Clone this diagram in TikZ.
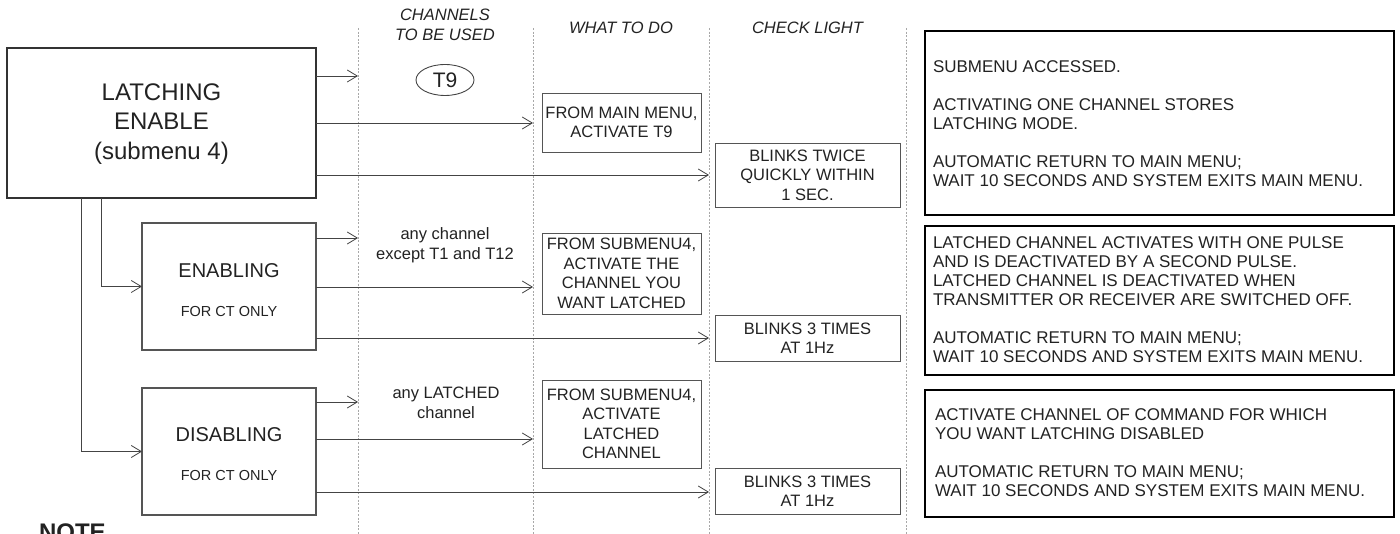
\documentclass[tikz,border=0pt]{standalone}
\usepackage{fontspec}
\setmainfont{Liberation Sans}
\usetikzlibrary{arrows.meta,shapes.geometric}
\definecolor{ink}{HTML}{222222}
\definecolor{ln}{HTML}{444444}
\definecolor{bx}{HTML}{555555}
\definecolor{dotc}{HTML}{A8A8A8}
\newcommand{\fsz}[2]{\fontsize{#1}{#2}\selectfont}
\begin{document}
\begin{tikzpicture}[x=1pt,y=-1pt,
  every node/.style={text=ink, inner sep=0pt, outer sep=0pt},
  mainbox/.style={draw=black!80, line width=1.2pt, rectangle},
  subbox/.style={draw=bx, line width=1.1pt, rectangle},
  midbox/.style={draw=bx, line width=0.9pt, rectangle, align=center, font=\fsz{16.5}{19.5}},
  notebox/.style={draw=black, line width=2pt, rectangle},
  notetext/.style={align=left, anchor=west, font=\fsz{17}{19}},
  hdr/.style={align=center, font=\fsz{16.5}{20}\itshape},
  chan/.style={align=center, font=\fsz{16.5}{19.5}},
  arr/.style={draw=ln, line width=0.9pt, -{Straight Barb[length=10pt,width=12pt,line width=0.8pt]}},
  guide/.style={draw=dotc, line width=0.8pt, dash pattern=on 2pt off 1.6pt}
]
\useasboundingbox (0,0) rectangle (1400,534);
\clip (0,0) rectangle (1400,534);

% column guides
\foreach \gx in {358,533,709,906} \draw[guide] (\gx,28) -- (\gx,534);

% headers
\node[hdr] (h1) at (445,25) {CHANNELS\\TO BE USED};
\node[hdr] (h2) at (621,28) {WHAT TO DO};
\node[hdr] (h3) at (807.5,28) {CHECK LIGHT};

% left boxes
\node[mainbox, minimum width=309pt, minimum height=150pt] (main) at (161.5,123) {};
\node[align=center, font=\fsz{24}{29.5}] (maint) at (161.5,124) {LATCHING\\ENABLE\\(submenu 4)};

\node[subbox, minimum width=174pt, minimum height=127pt] (en) at (229,286.5) {};
\node[font=\fsz{20}{24}] (ent) at (229,271) {ENABLING};
\node[font=\fsz{14.5}{17}] (ent2) at (229,312) {FOR CT ONLY};

\node[subbox, minimum width=174pt, minimum height=127pt] (dis) at (229,451.5) {};
\node[font=\fsz{20}{24}] (dist) at (229,435) {DISABLING};
\node[font=\fsz{14.5}{17}] (dist2) at (229,476) {FOR CT ONLY};

% channels column
\node[draw=ln, line width=0.9pt, ellipse, minimum width=58pt, minimum height=31pt, font=\fsz{21}{24}] (t9) at (445,80) {T9};
\node[chan] (ch1) at (445,245) {any channel\\except T1 and T12};
\node[chan] (ch2) at (446,403) {any LATCHED\\channel};

% what to do column
\node[midbox, minimum width=159pt, minimum height=59pt] (b1) at (621.5,122.5) {FROM MAIN MENU,\\ACTIVATE T9};
\node[midbox, minimum width=159pt, minimum height=81pt] (b2) at (621.5,273.5) {FROM SUBMENU4,\\ACTIVATE THE\\CHANNEL YOU\\WANT LATCHED};
\node[midbox, minimum width=159pt, minimum height=88pt] (b3) at (621.5,424) {FROM SUBMENU4,\\ACTIVATE\\LATCHED\\CHANNEL};

% check light column
\node[midbox, minimum width=185pt, minimum height=64pt] (c1) at (807.5,175) {BLINKS TWICE\\QUICKLY WITHIN\\1 SEC.};
\node[midbox, minimum width=185pt, minimum height=46pt] (c2) at (807.5,338) {BLINKS 3 TIMES\\AT 1Hz};
\node[midbox, minimum width=185pt, minimum height=46pt] (c3) at (807.5,491) {BLINKS 3 TIMES\\AT 1Hz};

% right note boxes
\node[notebox, minimum width=469pt, minimum height=184pt] (r1) at (1159.5,123) {};
\node[notetext] (r1t) at (933,124) {SUBMENU ACCESSED.\\[19pt]ACTIVATING ONE CHANNEL STORES\\LATCHING MODE.\\[19pt]AUTOMATIC RETURN TO MAIN MENU;\\WAIT 10 SECONDS AND SYSTEM EXITS MAIN MENU.};
\node[notebox, minimum width=469pt, minimum height=149pt] (r2) at (1159.5,300.5) {};
\node[notetext] (r2t) at (933,300) {LATCHED CHANNEL ACTIVATES WITH ONE PULSE\\AND IS DEACTIVATED BY A SECOND PULSE.\\LATCHED CHANNEL IS DEACTIVATED WHEN\\TRANSMITTER OR RECEIVER ARE SWITCHED OFF.\\[19pt]AUTOMATIC RETURN TO MAIN MENU;\\WAIT 10 SECONDS AND SYSTEM EXITS MAIN MENU.};
\node[notebox, minimum width=469pt, minimum height=127pt] (r3) at (1159.5,453.5) {};
\node[notetext] (r3t) at (935,453) {ACTIVATE CHANNEL OF COMMAND FOR WHICH\\YOU WANT LATCHING DISABLED\\[19pt]AUTOMATIC RETURN TO MAIN MENU;\\WAIT 10 SECONDS AND SYSTEM EXITS MAIN MENU.};

% NOTE (cut off at bottom)
\node[anchor=base west, font=\fsz{24}{28}\bfseries] (note) at (39,540) {NOTE};

% arrow end points on the guides
\coordinate (m1) at (358,76);
\coordinate (m2) at (533,123);
\coordinate (m3) at (709,175);
\coordinate (e1) at (358,238);
\coordinate (e2) at (533,287);
\coordinate (e3) at (709,338);
\coordinate (d1) at (358,402);
\coordinate (d2) at (533,439);
\coordinate (d3) at (709,492);

\draw[arr] (main.east |- m1) -- (m1);
\draw[arr] (main.east |- m2) -- (m2);
\draw[arr] (main.east |- m3) -- (m3);
\draw[arr] (en.east |- e1) -- (e1);
\draw[arr] (en.east |- e2) -- (e2);
\draw[arr] (en.east |- e3) -- (e3);
\draw[arr] (dis.east |- d1) -- (d1);
\draw[arr] (dis.east |- d2) -- (d2);
\draw[arr] (dis.east |- d3) -- (d3);

% branches from main box
\draw[arr] ([xshift=94pt]main.south west) |- (en.west);
\draw[arr] ([xshift=74pt]main.south west) |- (dis.west);
\end{tikzpicture}
\end{document}
